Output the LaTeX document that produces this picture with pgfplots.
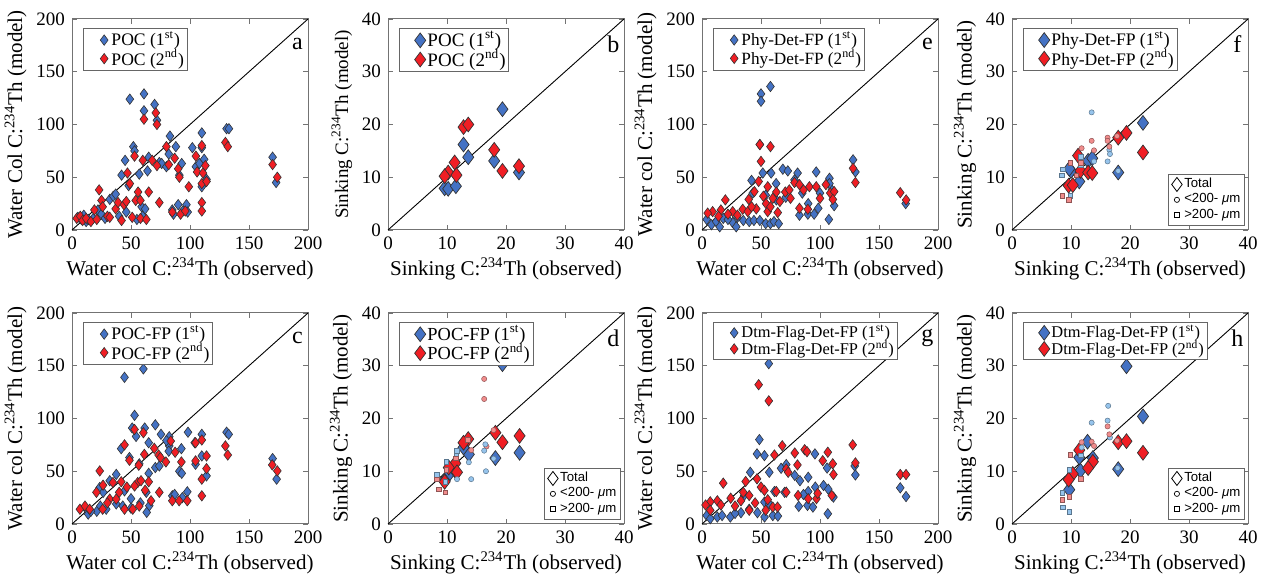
\documentclass[border=0pt]{standalone}
\usepackage{fontspec}
\setmainfont{Liberation Serif}
\newfontfamily\arial{Liberation Sans}
\usepackage{pgfplots}
\pgfplotsset{compat=1.18}
\definecolor{cblue}{RGB}{68,114,196}
\definecolor{cred}{RGB}{240,30,36}
\definecolor{lblue}{RGB}{150,196,236}
\definecolor{lred}{RGB}{240,140,140}
\pgfplotsset{
  panel/.style={scale only axis, width=118pt, height=105.5pt, anchor=south west, clip=false,
    axis line style={black!55, line width=0.5pt}, tick style={black!55, line width=0.4pt},
    major tick length=2.5pt, tick align=inside,
    ticklabel style={font=\fontsize{9.5}{10}\selectfont},
    label style={font=\fontsize{10.5}{12}\selectfont},
    xlabel style={yshift=3pt}, ylabel style={yshift=-2pt},
    /pgf/number format/assume math mode=true,
    legend cell align=left,
    legend style={at={(rel axis cs:0.045,0.955)}, anchor=north west, draw=black!60, line width=0.4pt,
      inner xsep=1pt, inner ysep=0.6pt, row sep=-1.1pt, nodes={inner sep=0.6pt}, font=\fontsize{8.8}{9.5}\selectfont},
    legend image code/.code={\path (0cm,0cm) (0.43cm,0cm); \draw[mark repeat=2,mark phase=2,##1] plot coordinates {(0cm,0cm) (0.33cm,0cm) (0.43cm,0cm)};},
  },
  wc/.style={panel, xmin=0,xmax=200,ymin=0,ymax=200, xtick={0,50,...,200}, ytick={0,50,...,200},
    xlabel={Water col C:\textsuperscript{234}Th (observed)}, ylabel={Water col C:\textsuperscript{234}Th (model)}},
  sk/.style={panel, xmin=0,xmax=40,ymin=0,ymax=40, xtick={0,10,...,40}, ytick={0,10,...,40},
    xlabel={Sinking C:\textsuperscript{234}Th (observed)}, ylabel={Sinking C:\textsuperscript{234}Th (model)}},
  bs/.style={only marks, mark=diamond*, mark size=2.6pt, mark options={fill=cblue, draw=black!80, line width=0.3pt}},
  rs/.style={only marks, mark=diamond*, mark size=2.6pt, mark options={fill=cred, draw=black!80, line width=0.3pt}},
  bb/.style={only marks, mark=diamond*, mark size=3.7pt, mark options={fill=cblue, draw=black!80, line width=0.35pt}},
  rb/.style={only marks, mark=diamond*, mark size=3.7pt, mark options={fill=cred, draw=black!80, line width=0.35pt}},
  lbc/.style={only marks, mark=*, mark size=1.3pt, mark options={fill=lblue, draw=lblue!60!black, line width=0.25pt}, forget plot},
  lrc/.style={only marks, mark=*, mark size=1.3pt, mark options={fill=lred, draw=lred!60!black, line width=0.25pt}, forget plot},
  lbq/.style={only marks, mark=square*, mark size=1.15pt, mark options={fill=lblue, draw=lblue!60!black, line width=0.25pt}, forget plot},
  lrq/.style={only marks, mark=square*, mark size=1.15pt, mark options={fill=lred, draw=lred!60!black, line width=0.25pt}, forget plot},
  one/.style={black, line width=0.45pt, forget plot},
  sizeleg/.style={panel, hide axis, xmin=0,xmax=1,ymin=0,ymax=1,
    legend style={at={(rel axis cs:0.985,0.022)}, anchor=south east, draw=black!60, line width=0.4pt,
      inner sep=1pt, row sep=-0.3pt, nodes={inner sep=0.9pt}, font=\arial\fontsize{6.6}{7.2}\selectfont},
    legend image code/.code={\path (0cm,0cm) (0.2cm,0cm); \draw[mark repeat=2,mark phase=2,##1] plot coordinates {(0cm,0cm) (0.11cm,0cm) (0.2cm,0cm)};}},
}
\newcommand{\plab}[1]{\node[font=\fontsize{12}{13}\selectfont] at (rel axis cs:0.955,0.88) {#1};}
\newcommand{\sizelegend}{%
  \addlegendimage{only marks, mark=diamond, mark size=3.5pt, black, line width=0.4pt}
  \addlegendentry{Total}
  \addlegendimage{only marks, mark=o, mark size=1.3pt, black, line width=0.35pt}
  \addlegendentry{<200- \textit{μ}m}
  \addlegendimage{only marks, mark=square, mark size=1.15pt, black, line width=0.35pt}
  \addlegendentry{>200- \textit{μ}m}}
\begin{document}
\begin{tikzpicture}
\useasboundingbox (0,0) rectangle (631.5pt,291pt);
% ---------------- a ----------------
\begin{axis}[wc, at={(36pt,176pt)}, ylabel={Water Col C:\textsuperscript{234}Th (model)}]
\addplot[one] coordinates {(0,0) (200,200)};
\addplot[bs] coordinates {(5,12) (8,10) (10,14) (12,8) (14,10) (18,11) (22,19) (25,15) (28,11) (32,29) (35,32) (37,34) (40,13) (42,52) (45,66) (46,17) (48,42) (49,124) (52,79) (53,75) (55,10) (57,53) (59,22) (60,13) (61,129) (61,113) (62,20) (64,56) (65,69) (70,119) (72,104) (74,64) (76,63) (80,60) (82,72) (83,89) (85,19) (86,15) (88,79) (90,24) (91,52) (93,63) (94,18) (97,24) (98,17) (102,78) (105,60) (108,63) (110,92) (110,78) (110,41) (112,67) (114,48) (131,96) (133,96) (170,69) (173,45)};
\addlegendentry{POC (1\textsuperscript{st})\hspace{8pt}}
\addplot[rs] coordinates {(4,11) (7,13) (9,9) (12,11) (16,8) (19,19) (21,10) (23,38) (25,28) (26,22) (30,13) (32,12) (37,20) (39,26) (42,9) (44,24) (46,27) (47,54) (49,44) (51,12) (53,70) (54,28) (56,36) (58,28) (58,11) (60,66) (61,105) (63,10) (65,36) (68,66) (71,111) (72,100) (72,61) (74,26) (80,79) (82,62) (85,17) (87,68) (90,58) (91,50) (92,15) (96,18) (99,41) (105,70) (106,55) (110,80) (110,44) (110,26) (110,18) (111,54) (113,61) (114,46) (130,83) (132,79) (170,62) (174,50)};
\addlegendentry{POC (2\textsuperscript{nd})\hspace{8pt}}
\plab{a}
\end{axis}
% ---------------- b ----------------
\begin{axis}[sk, at={(194pt,176pt)}, ylabel style={font=\fontsize{9.5}{10}\selectfont}, legend style={font=\fontsize{9.5}{10}\selectfont}]
\addplot[one] coordinates {(0,0) (40,40)};
\addplot[bb] coordinates {(19.4,22.9) (12.8,16.2) (13.6,13.8) (18,13.1) (22.2,10.9) (9.6,7.9) (10.2,7.8) (11.5,8.3)};
\addlegendentry{POC (1\textsuperscript{st})\hspace{4pt}}
\addplot[rb] coordinates {(12.8,19.5) (13.6,20) (18,15.2) (19.4,11.2) (22.2,12.1) (11.3,12.8) (10.2,10.9) (9.6,10.2) (11.6,10.4)};
\addlegendentry{POC (2\textsuperscript{nd})\hspace{4pt}}
\plab{b}
\end{axis}
% ---------------- e ----------------
\begin{axis}[wc, at={(351pt,176pt)}, legend style={font=\fontsize{8.6}{9.3}\selectfont}]
\addplot[one] coordinates {(0,0) (200,200)};
\addplot[bs] coordinates {(50,129) (50,122) (58,136) (49,81) (51.5,54) (58.6,54) (42,47) (68.5,57.6) (72.7,56) (81,54) (96.8,55) (108,49) (128,66.5) (130,55) (172.6,25) (43,35) (54,33) (62.8,44) (63,28.5) (71,31) (78.4,47.5) (82.6,14) (89.7,15) (95,15) (98.5,20.6) (107.5,10) (112,23) (110,38) (108,44) (4,10) (8,5) (12,8) (15,3) (18,11) (26,7) (29,3) (35,9) (40,8) (44,9) (49,9) (54,6) (58,6) (61,8) (65,6) (90,25) (85,35) (100,35) (30,12) (22,10)};
\addlegendentry{Phy-Det-FP (1\textsuperscript{st})}
\addplot[rs] coordinates {(49,81) (58,79) (50,65) (128,58.5) (130,45) (168,35.4) (173,28.5) (48,46) (55.7,41) (63,36) (70.6,36) (78.4,45) (82.6,43) (91,41) (96.8,41) (105,43) (108.7,35) (112,36.4) (110.9,29) (82.6,20.6) (89.7,19.6) (44.4,36.4) (39.6,29) (54.3,25) (55.7,17.4) (64.2,16.5) (19.8,28.5) (16,19) (26,17.4) (34.5,19.6) (9,17.4) (4.8,16) (38.8,17.4) (46,20) (60,30) (66,27) (74,38) (86,38) (100,30) (14,13) (22,15) (30,14) (42,22) (52,32) (58,22) (75,30)};
\addlegendentry{Phy-Det-FP (2\textsuperscript{nd})}
\plab{e}
\end{axis}
% ---------------- f ----------------
\begin{axis}[sk, at={(506pt,176pt)}, legend style={font=\fontsize{8.8}{9.5}\selectfont}]
\addplot[one] coordinates {(0,0) (40,40)};
\addplot[bb] coordinates {(22.2,20.3) (18,10.9) (10,11.2) (9.7,11.6) (12.9,13.1) (13.6,13.6) (11.4,9.2)};
\addlegendentry{Phy-Det-FP (1\textsuperscript{st})}
\addplot[rb] coordinates {(19.4,18.4) (18,17.5) (22.2,14.7) (11.2,14.1) (11.6,11.2) (12.9,10.9) (13.6,10.8) (9.6,8.4) (10.3,8.5)};
\addlegendentry{Phy-Det-FP (2\textsuperscript{nd})}
\addplot[lbc] coordinates {(13.5,22.3) (16.5,15.2) (16.2,13.0) (16.6,14.4) (13.9,13.0) (18,11.2) (11.7,13.9)};
\addplot[lrc] coordinates {(13.5,16.9) (16.2,17.5) (16.2,16.9) (16.5,15.8) (13.9,15.1) (11.8,15.5) (17.8,17.8)};
\addplot[lbq] coordinates {(8.6,11.5) (8.4,10.4) (9.9,6.5) (11.6,13.9) (11.7,12.3)};
\addplot[lrq] coordinates {(8.5,6.5) (9.6,5.7) (9.9,12.7) (11.7,12.8) (10.9,10.4)};
\plab{f}
\end{axis}
\begin{axis}[sizeleg, at={(506pt,176pt)}]
\sizelegend
\end{axis}
% ---------------- c ----------------
\begin{axis}[wc, at={(36pt,29pt)}]
\addplot[one] coordinates {(0,0) (200,200)};
\addplot[bs] coordinates {(44.5,139) (60.5,147) (53,103) (51,91) (54.3,83) (61.6,91) (70.6,94) (75.4,85) (65,77) (41.7,71.4) (48.7,63) (57,57) (82.4,82.7) (82.4,74) (80,79) (98.3,87) (110,85) (104,77) (92.7,71.4) (104.7,56.6) (110,64.5) (114,45.6) (91,50) (93,48) (131,87) (132.8,85) (170,62) (173.4,42.5) (70.6,53.5) (74,55) (82,69) (65,48) (37.5,47) (32,41) (23.5,34.6) (26.5,30) (44.5,31.4) (50,24) (63,30) (65.5,17.3) (63.3,11) (85,26.7) (87,28) (97.7,30.5) (93.5,25) (12.3,14) (13.7,9.4) (21,12) (29,14) (37.5,19) (43,17) (50,15) (58,20) (16,12) (24,17)};
\addlegendentry{POC-FP (1\textsuperscript{st})\hspace{1pt}}
\addplot[rs] coordinates {(53,89.6) (60.5,86.5) (44.5,75) (61.3,66) (69.7,71.7) (73.4,65.4) (75,63) (83.7,78.6) (79.6,58.8) (87.4,68) (92.7,58.8) (104.7,77) (110,79.6) (104.7,59.8) (114,64.5) (114,52.5) (110,42.5) (110,26.7) (130,74) (132,65.4) (169.7,56) (174,50.3) (48.7,60.4) (56.6,55.7) (65,40) (55.7,39.3) (58.5,41) (53,36) (41.7,40) (23.5,50.3) (20.7,30) (26.3,36.8) (34.7,39.3) (46.5,35) (44.5,14) (51.5,14) (57,17) (67,22) (74,30) (85,22) (90.8,22) (97.7,22) (32,23.6) (37.5,23.6) (6.7,14) (11,17) (15,14) (26,14) (30,20) (40,30) (62,32)};
\addlegendentry{POC-FP (2\textsuperscript{nd})\hspace{1pt}}
\plab{c}
\end{axis}
% ---------------- d ----------------
\begin{axis}[sk, at={(194pt,29pt)}, legend style={font=\fontsize{9.2}{10}\selectfont}]
\addplot[one] coordinates {(0,0) (40,40)};
\addplot[bb] coordinates {(19.4,30.3) (22.3,13.5) (18.2,12.5) (13.7,13.2) (12.8,14.5) (10.2,9.2) (9.6,8.2) (11.5,9.9)};
\addlegendentry{POC-FP (1\textsuperscript{st})\hspace{3pt}}
\addplot[rb] coordinates {(13.6,16.1) (12.8,15.4) (18.2,17.3) (19.4,15.5) (22.3,16.7) (11.4,11.5) (10.3,10.7) (11.7,9.8) (9.6,8.0)};
\addlegendentry{POC-FP (2\textsuperscript{nd})\hspace{3pt}}
\addplot[lrc] coordinates {(16.3,27.5) (16.3,23.7) (17.9,17.8) (16.7,14.7) (14.1,14.0)};
\addplot[lbc] coordinates {(16.5,15.1) (16.3,13.9) (16.6,10.0) (14.1,8.5) (17.9,12.4) (13.7,11.7) (11.7,8.5)};
\addplot[lbq] coordinates {(11.7,13.9) (11.6,13.0) (9.9,11.8) (8.3,9.3) (9.7,8.0)};
\addplot[lrq] coordinates {(8.6,6.6) (9.7,6.0) (13.5,16.0) (9.9,10.3) (8.3,8.5) (11.5,12.5)};
\plab{d}
\end{axis}
\begin{axis}[sizeleg, at={(194pt,29pt)}]
\sizelegend
\end{axis}
% ---------------- g ----------------
\begin{axis}[wc, at={(351pt,29pt)}, legend style={font=\fontsize{8.2}{8.9}\selectfont}]
\addplot[one] coordinates {(0,0) (200,200)};
\addplot[bs] coordinates {(56.6,152) (48.6,80) (46.6,66.4) (52.9,64.8) (40.9,49) (57,49) (67,52.8) (71.4,56.3) (78.6,46) (83,41) (95.7,66.4) (90,44.3) (106,53) (129.4,55) (130,46.5) (168,34.3) (172.9,26) (103,36.5) (107,33) (111.4,25.5) (106.6,9.7) (82,16.7) (89.4,17.6) (94,16) (90,30.8) (61.4,30.8) (70,30) (52.9,20.8) (57,19) (35.7,27) (33,10.7) (47,10.7) (53,6.6) (60,8) (64.3,7.5) (4,8) (7,5) (13,6.6) (17,8) (24,6.6) (28,10) (40,14) (96,35) (86,28)};
\addlegendentry{Dtm-Flag-Det-FP (1\textsuperscript{st})}
\addplot[rs] coordinates {(48,132) (56.6,116.7) (68,74.2) (61.4,65.4) (78.6,67.3) (87,70.4) (89,68.5) (80.9,56) (71.4,52.2) (73,49) (106.6,68) (110.8,57) (111.4,46.9) (102.3,60) (127.7,75) (130,57.9) (168,46.9) (172.9,46.9) (18,38.7) (37,40.3) (46.6,42.8) (50,35) (35,30) (40,27) (52.9,31.8) (55.7,23) (62.9,30.8) (71.4,30.2) (81.4,27) (90,24) (97,24) (98,29) (110,27) (24.3,24.5) (33,22) (13,22) (7,21) (3,18) (7,13) (16,18) (40,13) (54,13) (60,16) (64,16) (45,20) (28,17)};
\addlegendentry{Dtm-Flag-Det-FP (2\textsuperscript{nd})}
\plab{g}
\end{axis}
% ---------------- h ----------------
\begin{axis}[sk, at={(506pt,29pt)}, legend style={font=\fontsize{8.2}{8.9}\selectfont}]
\addplot[one] coordinates {(0,0) (40,40)};
\addplot[bb] coordinates {(19.4,29.9) (22.2,20.4) (18,10.4) (12.8,15.6) (11.4,12.6) (11.6,10.1) (13.7,12.5) (9.7,6.5)};
\addlegendentry{Dtm-Flag-Det-FP (1\textsuperscript{st})}
\addplot[rb] coordinates {(18,15.5) (19.4,15.7) (22.2,13.5) (11.4,14) (13.7,11.8) (12.9,10.6) (10.3,9.5) (9.6,8.4)};
\addlegendentry{Dtm-Flag-Det-FP (2\textsuperscript{nd})}
\addplot[lbc] coordinates {(16.3,22.4) (16.2,19.6) (13.5,19.2) (16.6,16.4) (17.9,10.6) (11.8,14.5)};
\addplot[lrc] coordinates {(16.2,18.5) (16.5,17) (13.5,15.6) (13.9,14.8) (11.8,15.5) (17.8,15.8)};
\addplot[lbq] coordinates {(8.5,5.9) (8.6,3.2) (9.7,2.3) (9.7,10.3) (11.6,13)};
\addplot[lrq] coordinates {(8.5,4.6) (9.7,5.2) (9.9,13.1) (11.6,8.6)};
\plab{h}
\end{axis}
\begin{axis}[sizeleg, at={(506pt,29pt)}]
\sizelegend
\end{axis}
\end{tikzpicture}
\end{document}
